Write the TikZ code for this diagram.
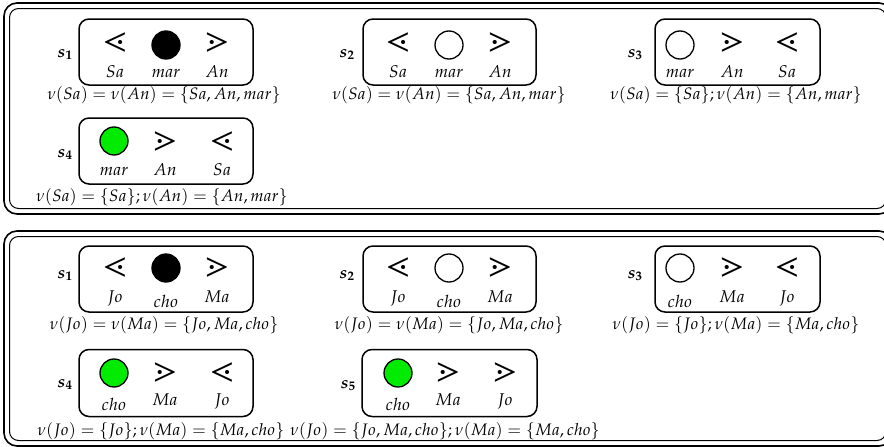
\documentclass[tikz,border=0pt]{standalone}
\usepackage{mathpazo}
\DeclareSymbolFont{pxsymB}{U}{pxsyb}{m}{n}
\DeclareMathSymbol{\pxlessdot}{\mathrel}{pxsymB}{"6C}
\DeclareMathSymbol{\pxgtrdot}{\mathrel}{pxsymB}{"6D}
\definecolor{stgreen}{RGB}{0,235,0}
\begin{document}
\begin{tikzpicture}[x=1pt,y=-1pt,
  outerline/.style={line width=1.6pt, rounded corners=13pt},
  innerline/.style={line width=1pt, rounded corners=9pt},
  stbox/.style={draw, rounded corners=10pt, line width=1.5pt, minimum width=174pt, minimum height=66pt, inner sep=0pt},
  sym/.style={font=\fontsize{37}{40}\selectfont, inner sep=0pt},
  dotc/.style={circle, draw, line width=1.3pt, minimum size=28pt, inner sep=0pt},
  emptyc/.style={dotc, fill=white},
  fullc/.style={dotc, fill=black},
  greenc/.style={dotc, fill=stgreen},
  lbl/.style={font=\fontsize{17}{20}\selectfont, anchor=base, inner sep=0pt},
  eqn/.style={font=\fontsize{16.6}{20}\selectfont, anchor=base, inner sep=0pt},
  slbl/.style={font=\fontsize{17}{20}\selectfont\boldmath, anchor=base, inner sep=0pt},
]
\useasboundingbox (0,0) rectangle (884,447);
\clip (0,0) rectangle (884,447);
% frames
\draw[outerline] (4,3) rectangle (892,214);
\draw[innerline] (9.5,8.5) rectangle (886,208.5);
\draw[outerline] (4,231) rectangle (892,446);
\draw[innerline] (9.5,236.5) rectangle (886,440.5);

% ===== top panel =====
% s1
\node[stbox] (tb1) at (166,52) {};
\node[slbl] (ts1) at (65,57) {$s_1$};
\node[sym] (ta1) at (115,43) {$\pxlessdot$};
\node[fullc] (tc1) at (166,45) {};
\node[sym] (td1) at (217,43) {$\pxgtrdot$};
\node[lbl] (tl1a) at (115,77) {$Sa$};
\node[lbl] (tl1b) at (166,77) {$mar$};
\node[lbl] (tl1c) at (217,77) {$An$};
\node[eqn] (te1) at (164,99) {$\nu(Sa)=\nu(An)=\{Sa,An,mar\}$};
% s2
\node[stbox, minimum width=173pt] (tb2) at (449.5,52) {};
\node[slbl] (ts2) at (347,57) {$s_2$};
\node[sym] (ta2) at (398,43) {$\pxlessdot$};
\node[emptyc] (tc2) at (449,45) {};
\node[sym] (td2) at (500,43) {$\pxgtrdot$};
\node[lbl] (tl2a) at (398,77) {$Sa$};
\node[lbl] (tl2b) at (449,77) {$mar$};
\node[lbl] (tl2c) at (500,77) {$An$};
\node[eqn] (te2) at (449,99) {$\nu(Sa)=\nu(An)=\{Sa,An,mar\}$};
% s3
\node[stbox, minimum width=165pt] (tb3) at (737.5,52) {};
\node[slbl] (ts3) at (635,57) {$s_3$};
\node[emptyc] (tc3) at (680,45) {};
\node[sym] (td3) at (732,43) {$\pxgtrdot$};
\node[sym] (ta3) at (787,43) {$\pxlessdot$};
\node[lbl] (tl3a) at (680,77) {$mar$};
\node[lbl] (tl3b) at (732,77) {$An$};
\node[lbl] (tl3c) at (787,77) {$Sa$};
\node[eqn] (te3) at (736,99) {$\nu(Sa)=\{Sa\};\nu(An)=\{An,mar\}$};
% s4
\node[stbox] (tb4) at (166,151) {};
\node[slbl] (ts4) at (65,157) {$s_4$};
\node[greenc] (tc4) at (114,141) {};
\node[sym] (td4) at (165,141) {$\pxgtrdot$};
\node[sym] (ta4) at (222,141) {$\pxlessdot$};
\node[lbl] (tl4a) at (114,175) {$mar$};
\node[lbl] (tl4b) at (165,175) {$An$};
\node[lbl] (tl4c) at (222,175) {$Sa$};
\node[eqn] (te4) at (162,201) {$\nu(Sa)=\{Sa\};\nu(An)=\{An,mar\}$};

% ===== bottom panel =====
% s1
\node[stbox] (bb1) at (166,279) {};
\node[slbl] (bs1) at (65,278) {$s_1$};
\node[sym] (ba1) at (115,267) {$\pxlessdot$};
\node[fullc] (bc1) at (166,268) {};
\node[sym] (bd1) at (217,267) {$\pxgtrdot$};
\node[lbl] (bl1a) at (115,302) {$Jo$};
\node[lbl] (bl1b) at (166,307) {$cho$};
\node[lbl] (bl1c) at (217,302) {$Ma$};
\node[eqn] (be1) at (164,329) {$\nu(Jo)=\nu(Ma)=\{Jo,Ma,cho\}$};
% s2
\node[stbox, minimum width=173pt] (bb2) at (449.5,279) {};
\node[slbl] (bs2) at (347,278) {$s_2$};
\node[sym] (ba2) at (398,267) {$\pxlessdot$};
\node[emptyc] (bc2) at (449,268) {};
\node[sym] (bd2) at (500,267) {$\pxgtrdot$};
\node[lbl] (bl2a) at (398,302) {$Jo$};
\node[lbl] (bl2b) at (449,307) {$cho$};
\node[lbl] (bl2c) at (500,302) {$Ma$};
\node[eqn] (be2) at (449,329) {$\nu(Jo)=\nu(Ma)=\{Jo,Ma,cho\}$};
% s3
\node[stbox, minimum width=165pt] (bb3) at (737.5,279) {};
\node[slbl] (bs3) at (635,278) {$s_3$};
\node[emptyc] (bc3) at (680,268) {};
\node[sym] (bd3) at (732,267) {$\pxgtrdot$};
\node[sym] (ba3) at (787,267) {$\pxlessdot$};
\node[lbl] (bl3a) at (680,307) {$cho$};
\node[lbl] (bl3b) at (732,302) {$Ma$};
\node[lbl] (bl3c) at (787,302) {$Jo$};
\node[eqn] (be3) at (736,329) {$\nu(Jo)=\{Jo\};\nu(Ma)=\{Ma,cho\}$};
% s4
\node[stbox, minimum height=67pt] (bb4) at (166,383) {};
\node[slbl] (bs4) at (65,387) {$s_4$};
\node[greenc] (bc4) at (114,373) {};
\node[sym] (bd4) at (165,372) {$\pxgtrdot$};
\node[sym] (ba4) at (222,372) {$\pxlessdot$};
\node[lbl] (bl4a) at (114,410) {$cho$};
\node[lbl] (bl4b) at (165,405) {$Ma$};
\node[lbl] (bl4c) at (222,405) {$Jo$};
\node[eqn] (be4) at (161,435) {$\nu(Jo)=\{Jo\};\nu(Ma)=\{Ma,cho\}$};
% s5
\node[stbox, minimum width=175pt, minimum height=67pt] (bb5) at (449.5,383) {};
\node[slbl] (bs5) at (348,388) {$s_5$};
\node[greenc] (bc5) at (398,373) {};
\node[sym] (bd5) at (448,372) {$\pxgtrdot$};
\node[sym] (bf5) at (505,372) {$\pxgtrdot$};
\node[lbl] (bl5a) at (398,410) {$cho$};
\node[lbl] (bl5b) at (448,405) {$Ma$};
\node[lbl] (bl5c) at (505,405) {$Jo$};
\node[eqn] (be5) at (445,435) {$\nu(Jo)=\{Jo,Ma,cho\};\nu(Ma)=\{Ma,cho\}$};
\end{tikzpicture}
\end{document}
